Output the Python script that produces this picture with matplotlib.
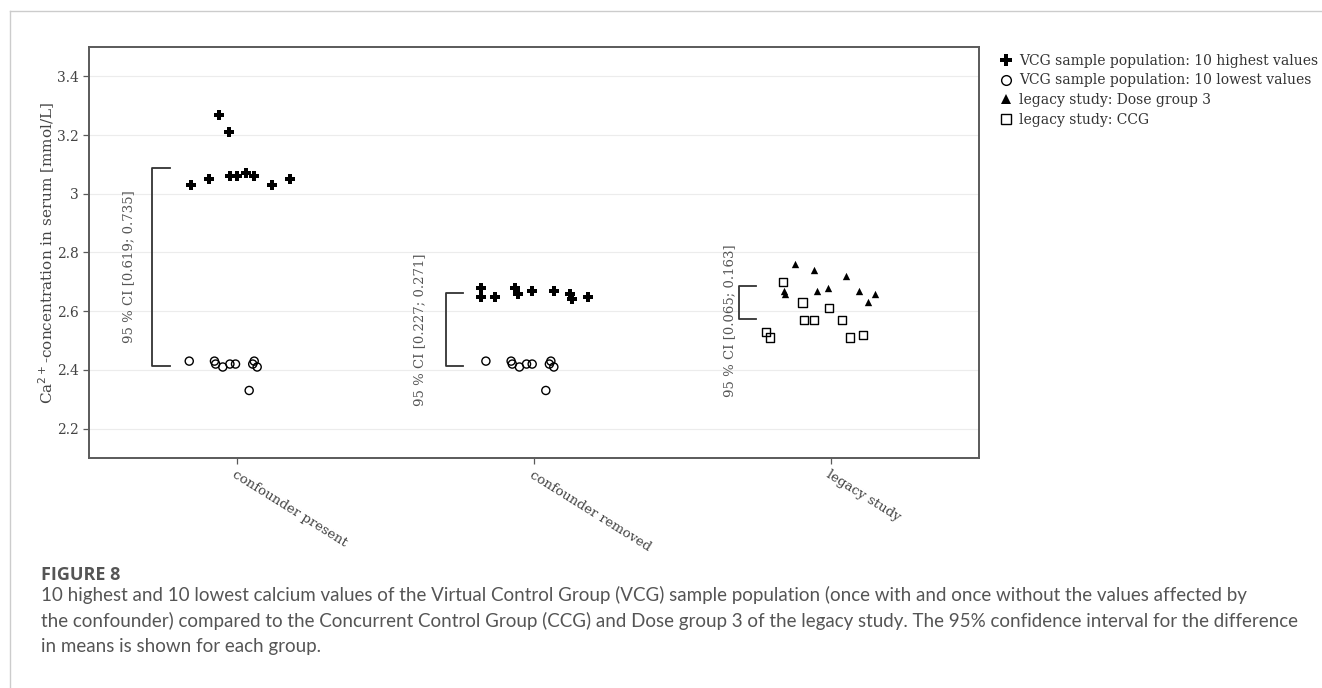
import matplotlib
matplotlib.use("Agg")
import matplotlib.pyplot as plt
import numpy as np
from matplotlib.lines import Line2D

plt.rcParams['font.family'] = 'DejaVu Serif'

categories = ["confounder present", "confounder removed", "legacy study"]

# VCG with confounder: 10 highest values
present_high = [3.03, 3.05, 3.27, 3.21, 3.06, 3.06, 3.07, 3.06, 3.03, 3.05]
present_high_jit = [-0.155, -0.097, -0.061, -0.028, -0.026, -0.001, 0.030, 0.057, 0.118, 0.179]

# VCG 10 lowest values (same in both VCG groups)
vcg_low = [2.43, 2.43, 2.42, 2.41, 2.42, 2.42, 2.33, 2.42, 2.43, 2.41]
vcg_low_jit = [-0.162, -0.077, -0.073, -0.049, -0.025, -0.006, 0.040, 0.052, 0.057, 0.067]

# VCG without confounder: 10 highest values
removed_high = [2.68, 2.65, 2.65, 2.68, 2.66, 2.67, 2.67, 2.66, 2.64, 2.65]
removed_high_jit = [-0.177, -0.177, -0.132, -0.065, -0.054, -0.007, 0.068, 0.121, 0.127, 0.181]

# legacy study
dose3 = [2.76, 2.67, 2.66, 2.74, 2.67, 2.68, 2.72, 2.67, 2.63, 2.66]
dose3_jit = [-0.119, -0.157, -0.153, -0.057, -0.045, -0.009, 0.052, 0.095, 0.126, 0.148]
ccg = [2.70, 2.63, 2.57, 2.57, 2.61, 2.57, 2.53, 2.51, 2.51, 2.52]
ccg_jit = [-0.161, -0.095, -0.090, -0.055, -0.006, 0.039, -0.218, -0.204, 0.066, 0.109]

ci_labels = ["95 % CI [0.619; 0.735]", "95 % CI [0.227; 0.271]", "95 % CI [0.065; 0.163]"]

caption_title = "FIGURE 8"
caption_text = ("10 highest and 10 lowest calcium values of the Virtual Control Group (VCG) sample population (once with and once without the values affected by\n"
                "the confounder) compared to the Concurrent Control Group (CCG) and Dose group 3 of the legacy study. The 95% confidence interval for the difference\n"
                "in means is shown for each group.")

# layout
bracket_x = [-0.286, -0.296, -0.309]
label_x = [-0.367, -0.384, -0.340]
label_shift = [0.0, 0.0, -0.062]
tick_len = 0.058
txt = '#444444'
frame = '#5a5a5a'

fig = plt.figure(figsize=(13.22, 6.88), dpi=100)
ax = fig.add_axes([0.0673, 0.3343, 0.6732, 0.5974])

groups = [
    (0, present_high, present_high_jit, vcg_low, vcg_low_jit),
    (1, removed_high, removed_high_jit, vcg_low, vcg_low_jit),
    (2, dose3, dose3_jit, ccg, ccg_jit),
]

for i, hi, hj, lo, lj in groups:
    hx = i + np.array(hj)
    lx = i + np.array(lj)
    if i < 2:
        ax.scatter(hx, hi, marker='P', s=55, color='black', linewidths=0, zorder=3)
        ax.scatter(lx, lo, marker='o', s=34, facecolors='none', edgecolors='black', linewidths=1.0, zorder=3)
    else:
        ax.scatter(hx, hi, marker='^', s=28, color='black', linewidths=0, zorder=3)
        ax.scatter(lx, lo, marker='s', s=36, facecolors='none', edgecolors='black', linewidths=1.0, zorder=3)
    top = np.mean(hi)
    bot = np.mean(lo)
    bx = i + bracket_x[i]
    ax.plot([bx + tick_len, bx, bx, bx + tick_len], [top, top, bot, bot], color='#333333', lw=1.3, zorder=2)
    ax.text(i + label_x[i], (top + bot) / 2 + label_shift[i], ci_labels[i], rotation=90,
            ha='center', va='center', fontsize=9.5, color='#555555')

ax.set_xlim(-0.5, 2.5)
ax.set_ylim(2.1, 3.5)
ax.set_yticks([2.2, 2.4, 2.6, 2.8, 3.0, 3.2, 3.4])
ax.set_yticklabels(['2.2', '2.4', '2.6', '2.8', '3', '3.2', '3.4'])
ax.set_xticks(range(3))
ax.set_xticklabels(categories, rotation=-32, ha='left', va='top', rotation_mode='anchor', fontsize=9.6)
ax.grid(axis='y', color='#ececec', lw=0.8)
ax.set_axisbelow(True)
ax.tick_params(axis='both', colors=frame, labelcolor=txt, length=4, width=0.9)
ax.tick_params(axis='y', labelsize=10)
for s in ax.spines.values():
    s.set_color(frame)
    s.set_linewidth(1.4)
ax.set_ylabel("Ca$^{2+}$-concentration in serum [mmol/L]", fontsize=11, color=txt, labelpad=0)

handles = [
    Line2D([], [], marker='P', ls='', color='black', markersize=8, markeredgewidth=0),
    Line2D([], [], marker='o', ls='', markerfacecolor='none', markeredgecolor='black', markersize=7),
    Line2D([], [], marker='^', ls='', color='black', markersize=7, markeredgewidth=0),
    Line2D([], [], marker='s', ls='', markerfacecolor='none', markeredgecolor='black', markersize=7),
]
labels = ["VCG sample population: 10 highest values", "VCG sample population: 10 lowest values",
          "legacy study: Dose group 3", "legacy study: CCG"]
fig.legend(handles, labels, loc='upper left', bbox_to_anchor=(0.756, 0.922), frameon=False,
           fontsize=10, labelcolor='#333333', handletextpad=0.4, handlelength=1.0,
           labelspacing=0.42, borderaxespad=0, borderpad=0)

# page frame
fig.add_artist(Line2D([0.0072, 0.0072], [0, 0.9833], color='#cccccc', lw=1, transform=fig.transFigure))
fig.add_artist(Line2D([0.0072, 1], [0.9833, 0.9833], color='#cccccc', lw=1, transform=fig.transFigure))

fig.text(0.031, 0.157, caption_title, fontsize=13, fontweight='bold', color='#555555', family='Open Sans')
fig.text(0.031, 0.149, caption_text, fontsize=13.5, color='#555555', family='Lato', va='top', linespacing=1.55)

fig.savefig('out.png', dpi=100)
